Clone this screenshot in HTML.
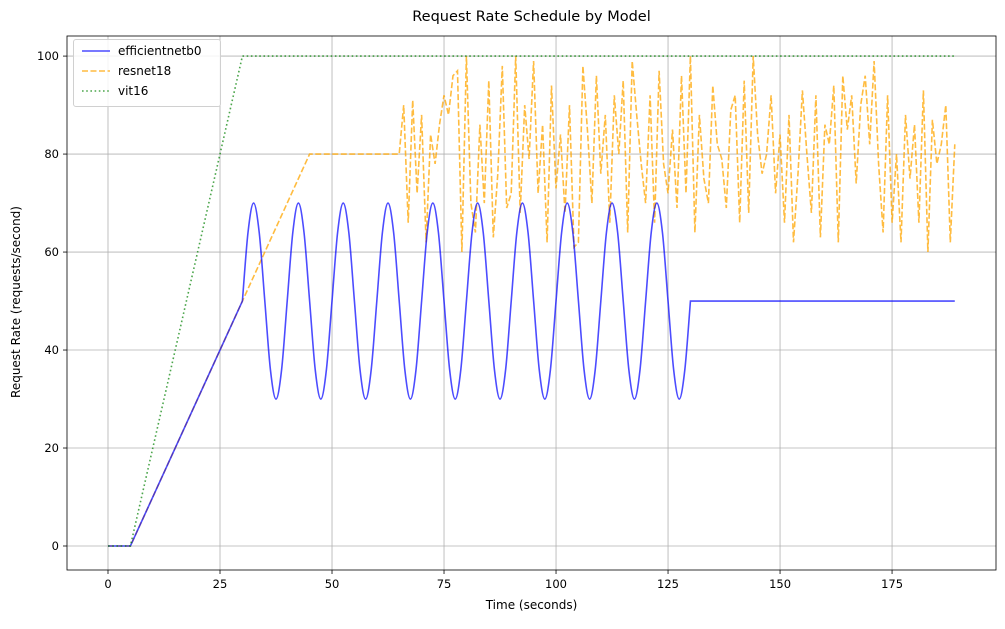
<!DOCTYPE html>
<html><head><meta charset="utf-8"><style>
body{margin:0;background:#fff;font-family:"Liberation Sans","DejaVu Sans",sans-serif;}
svg text{font-family:"DejaVu Sans","Liberation Sans",sans-serif;}
</style></head><body>
<svg id="c" width="1005" height="624" xmlns="http://www.w3.org/2000/svg"></svg>
<script>
const xTicks=[0,25,50,75,100,125,150,175];
const yTicks=[0,20,40,60,80,100];
const vitT=[0,5,30,189];
const vitV=[0,0,100,100];
const effT=[0,5,30,
31.25,32.5,33.75,35,36.25,37.5,38.75,40,
41.25,42.5,43.75,45,46.25,47.5,48.75,50,
51.25,52.5,53.75,55,56.25,57.5,58.75,60,
61.25,62.5,63.75,65,66.25,67.5,68.75,70,
71.25,72.5,73.75,75,76.25,77.5,78.75,80,
81.25,82.5,83.75,85,86.25,87.5,88.75,90,
91.25,92.5,93.75,95,96.25,97.5,98.75,100,
101.25,102.5,103.75,105,106.25,107.5,108.75,110,
111.25,112.5,113.75,115,116.25,117.5,118.75,120,
121.25,122.5,123.75,125,126.25,127.5,128.75,130,
189];
const effV=[0,0,50,
64,70,64,50,36,30,36,50,
64,70,64,50,36,30,36,50,
64,70,64,50,36,30,36,50,
64,70,64,50,36,30,36,50,
64,70,64,50,36,30,36,50,
64,70,64,50,36,30,36,50,
64,70,64,50,36,30,36,50,
64,70,64,50,36,30,36,50,
64,70,64,50,36,30,36,50,
64,70,64,50,36,30,36,50,
50];
const resT0=[0,5,45,65];
const resV0=[0,0,80,80];
const resNoise=[80,90,66,91,72,88,62,84,78,86,92,88,96,97,60,100,70,64,86,70,95,63,76,98,69,72,100,68,90,79,99,72,86,62,94,73,84,68,90,61,62,98,85,70,96,76,88,66,92,80,95,64,99,88,78,70,92,66,97,78,72,85,69,96,72,100,64,88,75,70,94,82,79,69,89,92,66,95,68,100,84,76,80,92,72,84,66,88,62,76,93,80,68,92,63,86,82,94,62,96,85,92,74,90,96,82,99,78,64,92,66,80,62,88,75,86,66,93,60,87,78,82,90,62,82];
const L=67,R=996,T=36,B=570;
const X0=-9.15,X1=198.2,Y0=-4.9,Y1=104.1;
const sx=v=>L+(v-X0)/(X1-X0)*(R-L);
const sy=v=>B-(v-Y0)/(Y1-Y0)*(B-T);
const svg=document.getElementById('c');
const NS='http://www.w3.org/2000/svg';
function mk(tag,attrs,parent){const e=document.createElementNS(NS,tag);for(const k in attrs)e.setAttribute(k,attrs[k]);(parent||svg).appendChild(e);return e;}
xTicks.forEach(t=>{const l=mk('line',{x1:sx(t),x2:sx(t),y1:T,y2:B,stroke:'#b0b0b0','stroke-width':0.8});


const tk=mk('line',{x1:sx(t),x2:sx(t),y1:B,y2:B+4,stroke:'#000','stroke-width':0.8});


const tx=mk('text',{x:sx(t),y:B+18,'text-anchor':'middle','font-size':11.5});tx.textContent=t;

});
yTicks.forEach(t=>{const l=mk('line',{x1:L,x2:R,y1:sy(t),y2:sy(t),stroke:'#b0b0b0','stroke-width':0.8});


const tk=mk('line',{x1:L-4,x2:L,y1:sy(t),y2:sy(t),stroke:'#000','stroke-width':0.8});


const tx=mk('text',{x:L-8,y:sy(t)+4,'text-anchor':'end','font-size':11.5});tx.textContent=t;

});
function poly(ts,vs){return ts.map((t,i)=>(i?'L':'M')+sx(t).toFixed(1)+','+sy(vs[i]).toFixed(1)).join('');}
function smooth(ts,vs,a,b){const p=ts.map((t,i)=>[sx(t),sy(vs[i])]);
let d='M'+p[0][0]+','+p[0][1];
for(let i=1;i<p.length;i++){
if(i<=a||i>b){d+='L'+p[i][0]+','+p[i][1];continue;}
const p1=p[i-1],p2=p[i];const p0=(i-2>=a)?p[i-2]:p1;const p3=(i+1<=b)?p[i+1]:p2;
const c1=[p1[0]+(p2[0]-p0[0])/6,p1[1]+(p2[1]-p0[1])/6],c2=[p2[0]-(p3[0]-p1[0])/6,p2[1]-(p3[1]-p1[1])/6];
d+='C'+c1.join(',')+' '+c2.join(',')+' '+p2.join(',');}return d;}
const rT=resT0.slice(),rV=resV0.slice();
resNoise.forEach((v,i)=>{rT.push(65+i*(124/(resNoise.length-1)));rV.push(v);});
const res=mk('path',{d:poly(rT,rV),fill:'none',stroke:'orange','stroke-opacity':0.75,'stroke-width':1.6,'stroke-dasharray':'6,2.5'});


const eff=mk('path',{d:smooth(effT,effV,2,effT.length-2),fill:'none',stroke:'blue','stroke-opacity':0.7,'stroke-width':1.6});


const vit=mk('path',{d:poly(vitT,vitV),fill:'none',stroke:'green','stroke-opacity':0.7,'stroke-width':1.6,'stroke-dasharray':'1.6,2.6'});


const fr=mk('rect',{x:L,y:T,width:R-L,height:B-T,fill:'none',stroke:'#000','stroke-width':0.8});


</script>
<div style="position:absolute;left:0;top:0;width:1005px;height:624px;pointer-events:none">
<div style="position:absolute;left:0;width:1063px;top:9px;text-align:center;font-size:14.5px;font-family:'DejaVu Sans',sans-serif">Request Rate Schedule by Model</div>
<div style="position:absolute;left:0;width:1063px;top:598px;text-align:center;font-size:12px;font-family:'DejaVu Sans',sans-serif">Time (seconds)</div>
<div style="position:absolute;left:-84px;top:295px;width:200px;text-align:center;transform:rotate(-90deg);font-size:12px;font-family:'DejaVu Sans',sans-serif">Request Rate (requests/second)</div>
<div style="position:absolute;left:73px;top:39px;width:146px;height:66px;border:1px solid #d0d0d0;border-radius:3px;background:rgba(255,255,255,.85);font-size:12px;font-family:'DejaVu Sans',sans-serif">
<svg style="position:absolute;left:0;top:0" width="146" height="66">
<line x1="8" x2="36" y1="11" y2="11" stroke="blue" stroke-opacity="0.7" stroke-width="1.6"/>
<line x1="8" x2="36" y1="31" y2="31" stroke="orange" stroke-opacity="0.75" stroke-width="1.6" stroke-dasharray="6,2.5"/>
<line x1="8" x2="36" y1="51" y2="51" stroke="green" stroke-opacity="0.7" stroke-width="1.6" stroke-dasharray="1.6,2.6"/>
</svg>
<div style="position:absolute;left:44px;top:4px;white-space:nowrap">efficientnetb0</div>
<div style="position:absolute;left:44px;top:24px;white-space:nowrap">resnet18</div>
<div style="position:absolute;left:44px;top:44px;white-space:nowrap">vit16</div>
</div>
</div>
</body></html>
